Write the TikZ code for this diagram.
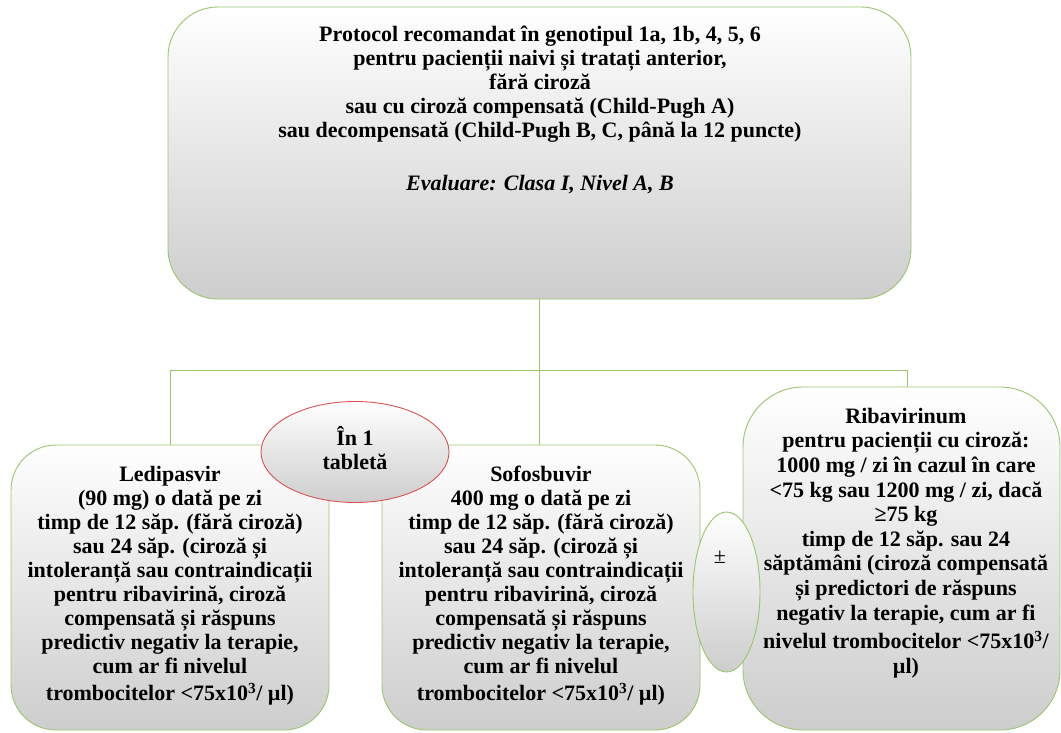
\documentclass[tikz,border=0pt]{standalone}
\usepackage{fontspec}
\setmainfont{Liberation Serif}
\usetikzlibrary{positioning,shapes.geometric}

\definecolor{boxgreen}{RGB}{155,197,110}
\definecolor{ovalred}{RGB}{220,82,82}
\definecolor{shadegray}{RGB}{205,205,205}

\begin{document}
\begin{tikzpicture}[x=1pt,y=-1pt,
		box/.style={draw=boxgreen,line width=0.9pt,rounded corners=45pt,top color=white,bottom color=shadegray,inner sep=0pt},
		boxtext/.style={align=center,inner sep=0pt,font=\fontsize{22}{24}\selectfont\bfseries},
		oval/.style={ellipse,draw=boxgreen,line width=0.9pt,top color=white,bottom color=shadegray,inner sep=0pt},
		link/.style={draw=boxgreen,line width=0.9pt}]
		
		\useasboundingbox (0,0) rectangle (1061,733);
		
		% boxes
		\coordinate (fork) at (540,370);
		\node[box,rounded corners=50pt,minimum width=743pt,minimum height=292pt] (top) at (539.5,153) {};
		\node[box,minimum width=318pt,minimum height=285pt] (ledi) at (170,587.5) {};
		\node[box,minimum width=318pt,minimum height=285pt] (sofo) at (541,587.5) {};
		\node[box,rounded corners=60pt,minimum width=317pt,minimum height=343pt] (riba) at (901.5,558.5) {};
		
		% connectors
		\draw[link] (top.south) -- (top.south |- sofo.north);
		\draw[link] (fork) -| (ledi.north);
		\draw[link] (fork) -| ([xshift=5.5pt]riba.north);
		
		% top box
		\node[boxtext,anchor=north] (toptxt) at (540,26) {Protocol recomandat în genotipul 1a, 1b, 4, 5, 6\\
			pentru pacienții naivi și tratați anterior,\\
			fără ciroză\\
			sau cu ciroză compensată (Child-Pugh A)\\
			sau decompensată (Child-Pugh B, C, până la 12 puncte)\\[29pt]
			\itshape Evaluare: Clasa I, Nivel A, B};
		
		% Ledipasvir
		\node[boxtext] (leditxt) at (170,586) {Ledipasvir\\
			(90 mg) o dată pe zi\\
			timp de 12 săp. (fără ciroză)\\
			sau 24 săp. (ciroză și\\
			intoleranță sau contraindicații\\
			pentru ribavirină, ciroză\\
			compensată și răspuns\\
			predictiv negativ la terapie,\\
			cum ar fi nivelul\\[3pt]
			trombocitelor <75x10\textsuperscript{3}/ µl)};
		
		% Sofosbuvir
		\node[boxtext] (sofotxt) at (541,586) {Sofosbuvir\\
			400 mg o dată pe zi\\
			timp de 12 săp. (fără ciroză)\\
			sau 24 săp. (ciroză și\\
			intoleranță sau contraindicații\\
			pentru ribavirină, ciroză\\
			compensată și răspuns\\
			predictiv negativ la terapie,\\
			cum ar fi nivelul\\[3pt]
			trombocitelor <75x10\textsuperscript{3}/ µl)};
		
		% Ribavirinum
		\node[boxtext,font=\fontsize{22}{24.6}\selectfont\bfseries] (ribatxt) at (906,543) {Ribavirinum\\
			pentru pacienții cu ciroză:\\
			1000 mg / zi în cazul în care\\
			<75 kg sau 1200 mg / zi, dacă\\
			≥75 kg\\
			timp de 12 săp. sau 24\\
			săptămâni (ciroză compensată\\
			și predictori de răspuns\\
			negativ la terapie, cum ar fi\\[4pt]
			nivelul trombocitelor <75x10\textsuperscript{3}/\\
			µl)};
		
		% ovals on top
		\node[oval,draw=ovalred,minimum width=188pt,minimum height=101pt] (tablet) at (355,452) {};
		\node[boxtext] (tablettxt) at (355,448) {În 1\\tabletă};
		
		\node[oval,minimum width=67pt,minimum height=160pt] (plusminus) at (726.5,592) {};
		\node[font=\fontsize{22}{24}\selectfont,inner sep=0pt] (pmtxt) at (720,557) {±};
		
	\end{tikzpicture}
\end{document}
